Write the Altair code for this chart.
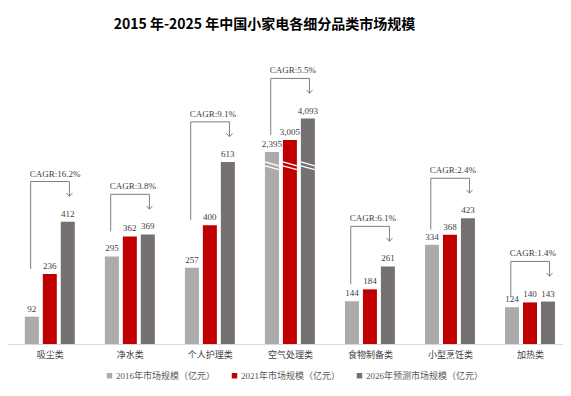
import json
import altair as alt
import pandas as pd

# ---------------- data ----------------
categories = ["吸尘类", "净水类", "个人护理类", "空气处理类", "食物制备类", "小型烹饪类", "加热类"]
series = ["2016年市场规模（亿元）", "2021年市场规模（亿元）", "2026年预测市场规模（亿元）"]
v2016 = [92, 295, 257, 2395, 144, 334, 124]
v2021 = [236, 362, 400, 3005, 184, 368, 140]
v2026 = [412, 369, 613, 4093, 261, 423, 143]
cagr = ["CAGR:16.2%", "CAGR:3.8%", "CAGR:9.1%", "CAGR:5.5%", "CAGR:6.1%", "CAGR:2.4%", "CAGR:1.4%"]
colors = ["#AEAAAA", "#C00000", "#767171"]

BROKEN = "空气处理类"          # category drawn with a broken (compressed) axis
BREAK_BASE, BREAK_SLOPE = 487, 0.0665
BREAK_MARK_LEVEL = 600
OFFSET = 0.2245                # bar offset within a group (category units)

FONT = "Liberation Serif, Noto Sans CJK SC"

rows = []
for i, c in enumerate(categories):
    for j, (s, vals) in enumerate(zip(series, [v2016, v2021, v2026])):
        rows.append({"idx": i, "sj": j, "cat": c, "series": s, "value": vals[i]})
df = pd.DataFrame(rows)

brk = pd.DataFrame({"idx": list(range(len(categories))), "cat": categories,
                    "a": v2016, "b": v2021, "c": v2026, "cagr": cagr})


def disp(field):
    return (f"(datum.cat == '{BROKEN}' ? {BREAK_BASE} + {BREAK_SLOPE} * datum.{field} "
            f": datum.{field})")


x_scale = alt.Scale(domain=[-0.46, 6.35], nice=False, zero=False)
y_scale = alt.Scale(domain=[0, 1000], nice=False)

label_expr = json.dumps(categories, ensure_ascii=False) + "[datum.value]"
x_axis = alt.Axis(values=list(range(len(categories))), labelExpr=label_expr,
                  title=None, ticks=False, grid=False, domainColor="#D9D9D9",
                  labelFont=FONT, labelFontSize=9, labelColor="#404040",
                  labelPadding=6)


def X(field):
    return alt.X(field, scale=x_scale, axis=x_axis)


def Y(field):
    return alt.Y(field, scale=y_scale, axis=None)


base = alt.Chart(df).transform_calculate(
    xp=f"datum.idx + (datum.sj - 1) * {OFFSET}",
    yd=disp("value"),
)

bars = base.mark_bar(size=14).encode(
    x=X("xp:Q"),
    y=Y("yd:Q"),
    color=alt.Color("series:N", scale=alt.Scale(domain=series, range=colors),
                    legend=alt.Legend(orient="none", legendX=97, legendY=324,
                                      direction="horizontal", title=None,
                                      symbolType="square", symbolSize=30,
                                      labelFont=FONT, labelFontSize=9,
                                      labelColor="#595959", columnPadding=14,
                                      labelOffset=2)),
)

values_txt = base.mark_text(baseline="bottom", dy=-3, font=FONT, fontSize=9,
                            color="#404040").encode(
    x=X("xp:Q"), y=Y("yd:Q"),
    text=alt.Text("value:Q", format=","),
)

break_marks = base.transform_filter(f"datum.cat == '{BROKEN}'").transform_calculate(
    yb=f"{BREAK_MARK_LEVEL}"
).mark_point(shape="M-1,-0.55L1,0M-1,0L1,0.55", filled=False, size=196,
             color="white", strokeWidth=1.3, opacity=1).encode(
    x=X("xp:Q"), y=Y("yb:Q"),
)

bb = alt.Chart(brk).transform_calculate(
    da=disp("a"), db=disp("b"), dc=disp("c"),
).transform_calculate(
    top="max(datum.da, datum.db, datum.dc) + 135",
    bottom="datum.db + 17",
    xl=f"datum.idx - {OFFSET} - 0.015",
    xr=f"datum.idx + {OFFSET} + 0.02",
).transform_calculate(
    tip="datum.top - 50",
)

line_color = "#7F7F7F"
left_v = bb.mark_rule(color=line_color, strokeWidth=1).encode(
    x=X("xl:Q"), y=Y("bottom:Q"), y2="top:Q")
horiz = bb.mark_rule(color=line_color, strokeWidth=1).encode(
    x=X("xl:Q"), x2="xr:Q", y=Y("top:Q"))
right_v = bb.mark_rule(color=line_color, strokeWidth=1).encode(
    x=X("xr:Q"), y=Y("top:Q"), y2="tip:Q")
arrow = bb.mark_point(shape="M-1,-1.1L0,0L1,-1.1", filled=False, size=36,
                      color=line_color, strokeWidth=1, opacity=1).encode(
    x=X("xr:Q"), y=Y("tip:Q"))
cagr_txt = bb.mark_text(align="left", baseline="bottom", dy=-3, dx=-1, font=FONT,
                        fontSize=9, color="#404040").encode(
    x=X("xl:Q"), y=Y("top:Q"), text="cagr:N")

chart = alt.layer(bars, values_txt, break_marks, left_v, horiz, right_v, arrow,
                  cagr_txt).properties(
    width=555, height=297,
    padding={"left": 0, "top": 10, "right": 0, "bottom": 0},
    title=alt.Title("2015 年-2025 年中国小家电各细分品类市场规模",
                    font="Noto Sans CJK SC", fontSize=14, fontWeight="bold",
                    color="#000000", anchor="middle", dx=-21, offset=15),
).configure_view(stroke=None)

chart.save("out.html", embed_options={"renderer": "svg", "actions": False})
